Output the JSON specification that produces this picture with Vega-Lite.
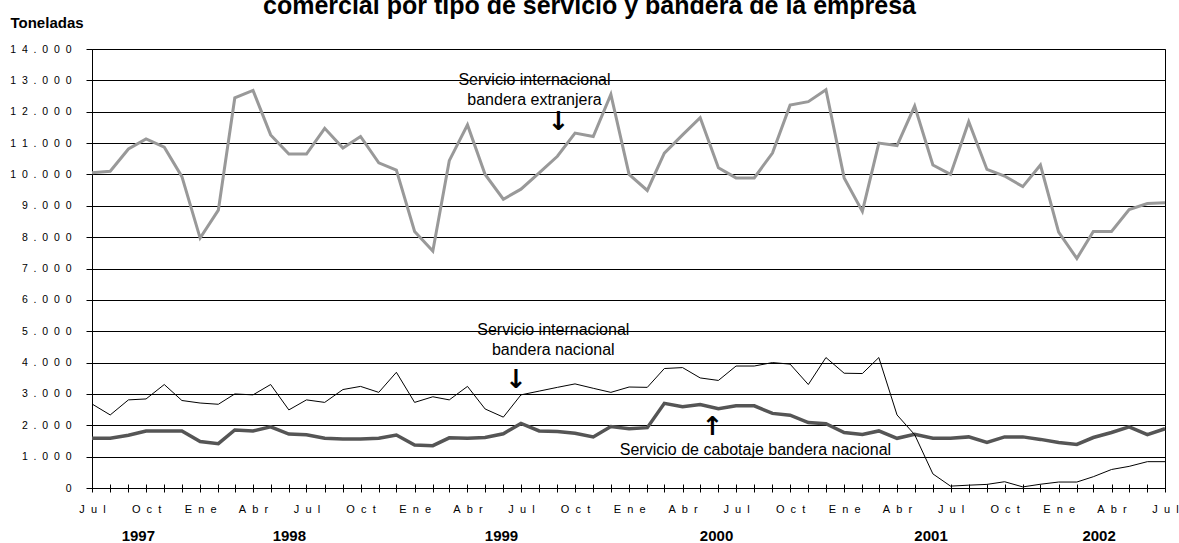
{
  "$schema": "https://vega.github.io/schema/vega-lite/v6.json",
  "width": 1073,
  "height": 439,
  "autosize": {"type": "none"},
  "padding": {"left": 92, "top": 49, "right": 14, "bottom": 55},
  "background": "white",
  "title": {
    "text": "comercial por tipo de servicio y bandera de la empresa",
    "font": "Liberation Sans",
    "fontSize": 25,
    "fontWeight": "bold",
    "color": "black",
    "anchor": "middle",
    "frame": "group",
    "offset": -4,
    "dx": -39
  },
  "config": {
    "view": {"stroke": "black", "strokeWidth": 1},
    "font": "Liberation Sans",
    "axis": {
      "labelColor": "black",
      "domainColor": "black",
      "tickColor": "black",
      "titleColor": "black",
      "labelFont": "Liberation Sans",
      "titleFont": "Liberation Sans"
    }
  },
  "datasets": {
    "mensual": [
      {"mes": "1997-07-01", "ext": 10050, "nac": 2680, "cab": 1585},
      {"mes": "1997-08-01", "ext": 10100, "nac": 2330, "cab": 1585},
      {"mes": "1997-09-01", "ext": 10810, "nac": 2810, "cab": 1680},
      {"mes": "1997-10-01", "ext": 11130, "nac": 2840, "cab": 1820},
      {"mes": "1997-11-01", "ext": 10870, "nac": 3300, "cab": 1820},
      {"mes": "1997-12-01", "ext": 9930, "nac": 2790, "cab": 1820},
      {"mes": "1998-01-01", "ext": 7970, "nac": 2710, "cab": 1480},
      {"mes": "1998-02-01", "ext": 8860, "nac": 2670, "cab": 1415},
      {"mes": "1998-03-01", "ext": 12440, "nac": 3000, "cab": 1850},
      {"mes": "1998-04-01", "ext": 12680, "nac": 2970, "cab": 1820},
      {"mes": "1998-05-01", "ext": 11260, "nac": 3300, "cab": 1950},
      {"mes": "1998-06-01", "ext": 10650, "nac": 2490, "cab": 1720},
      {"mes": "1998-07-01", "ext": 10650, "nac": 2810, "cab": 1700},
      {"mes": "1998-08-01", "ext": 11470, "nac": 2730, "cab": 1585},
      {"mes": "1998-09-01", "ext": 10840, "nac": 3140, "cab": 1560},
      {"mes": "1998-10-01", "ext": 11210, "nac": 3240, "cab": 1560},
      {"mes": "1998-11-01", "ext": 10370, "nac": 3050, "cab": 1585},
      {"mes": "1998-12-01", "ext": 10140, "nac": 3690, "cab": 1690},
      {"mes": "1999-01-01", "ext": 8180, "nac": 2730, "cab": 1370},
      {"mes": "1999-02-01", "ext": 7560, "nac": 2910, "cab": 1350},
      {"mes": "1999-03-01", "ext": 10440, "nac": 2810, "cab": 1600},
      {"mes": "1999-04-01", "ext": 11580, "nac": 3240, "cab": 1585},
      {"mes": "1999-05-01", "ext": 10000, "nac": 2520, "cab": 1610},
      {"mes": "1999-06-01", "ext": 9210, "nac": 2260, "cab": 1730},
      {"mes": "1999-07-01", "ext": 9530, "nac": 2970, "cab": 2060},
      {"mes": "1999-08-01", "ext": 10050, "nac": 3090, "cab": 1820},
      {"mes": "1999-09-01", "ext": 10580, "nac": 3210, "cab": 1800},
      {"mes": "1999-10-01", "ext": 11320, "nac": 3320, "cab": 1745},
      {"mes": "1999-11-01", "ext": 11210, "nac": 3180, "cab": 1630},
      {"mes": "1999-12-01", "ext": 12550, "nac": 3050, "cab": 1960},
      {"mes": "2000-01-01", "ext": 10000, "nac": 3220, "cab": 1890},
      {"mes": "2000-02-01", "ext": 9490, "nac": 3210, "cab": 1925},
      {"mes": "2000-03-01", "ext": 10680, "nac": 3810, "cab": 2700},
      {"mes": "2000-04-01", "ext": 11260, "nac": 3840, "cab": 2590},
      {"mes": "2000-05-01", "ext": 11810, "nac": 3510, "cab": 2660},
      {"mes": "2000-06-01", "ext": 10210, "nac": 3430, "cab": 2530},
      {"mes": "2000-07-01", "ext": 9890, "nac": 3890, "cab": 2620},
      {"mes": "2000-08-01", "ext": 9890, "nac": 3890, "cab": 2620},
      {"mes": "2000-09-01", "ext": 10680, "nac": 4000, "cab": 2380},
      {"mes": "2000-10-01", "ext": 12210, "nac": 3950, "cab": 2320},
      {"mes": "2000-11-01", "ext": 12320, "nac": 3300, "cab": 2085},
      {"mes": "2000-12-01", "ext": 12700, "nac": 4160, "cab": 2050},
      {"mes": "2001-01-01", "ext": 9890, "nac": 3660, "cab": 1770},
      {"mes": "2001-02-01", "ext": 8820, "nac": 3650, "cab": 1710},
      {"mes": "2001-03-01", "ext": 11000, "nac": 4160, "cab": 1820},
      {"mes": "2001-04-01", "ext": 10920, "nac": 2330, "cab": 1585},
      {"mes": "2001-05-01", "ext": 12180, "nac": 1700, "cab": 1710},
      {"mes": "2001-06-01", "ext": 10300, "nac": 450, "cab": 1585},
      {"mes": "2001-07-01", "ext": 10000, "nac": 60, "cab": 1585},
      {"mes": "2001-08-01", "ext": 11680, "nac": 90, "cab": 1630},
      {"mes": "2001-09-01", "ext": 10160, "nac": 115, "cab": 1450},
      {"mes": "2001-10-01", "ext": 9950, "nac": 200, "cab": 1630},
      {"mes": "2001-11-01", "ext": 9610, "nac": 35, "cab": 1630},
      {"mes": "2001-12-01", "ext": 10300, "nac": 120, "cab": 1550},
      {"mes": "2002-01-01", "ext": 8160, "nac": 190, "cab": 1450},
      {"mes": "2002-02-01", "ext": 7320, "nac": 190, "cab": 1390},
      {"mes": "2002-03-01", "ext": 8180, "nac": 360, "cab": 1610},
      {"mes": "2002-04-01", "ext": 8180, "nac": 590, "cab": 1770},
      {"mes": "2002-05-01", "ext": 8880, "nac": 690, "cab": 1950},
      {"mes": "2002-06-01", "ext": 9070, "nac": 840, "cab": 1700},
      {"mes": "2002-07-01", "ext": 9100, "nac": 840, "cab": 1890}
    ],
    "notas": [
      {"mes": "1999-07-24", "toneladas": 13010, "texto": "Servicio internacional"},
      {"mes": "1999-07-24", "toneladas": 12370, "texto": "bandera extranjera"},
      {"mes": "1999-08-25", "toneladas": 5040, "texto": "Servicio internacional"},
      {"mes": "1999-08-25", "toneladas": 4400, "texto": "bandera nacional"},
      {"mes": "2000-08-03", "toneladas": 1210, "texto": "Servicio de cabotaje bandera nacional"}
    ],
    "flechas": [
      {"mes": "1999-09-03", "toneladas": 11670, "flecha": "↓"},
      {"mes": "1999-06-23", "toneladas": 3440, "flecha": "↓"},
      {"mes": "2000-05-22", "toneladas": 1945, "flecha": "↑"}
    ]
  },
  "resolve": {"axis": {"x": "independent"}},
  "layer": [
    {
      "data": {"name": "mensual"},
      "transform": [{"fold": ["ext", "cab", "nac"], "as": ["serie", "toneladas"]}],
      "mark": {"type": "line"},
      "encoding": {
        "x": {
          "field": "mes",
          "type": "temporal",
          "scale": {
            "type": "utc",
            "nice": false,
            "domain": [
              {"year": 1997, "month": 7, "date": 1, "utc": true},
              {"year": 2002, "month": 7, "date": 1, "utc": true}
            ]
          },
          "axis": {
            "orient": "bottom",
            "title": null,
            "grid": false,
            "tickCount": {"interval": "month", "step": 1},
            "tickSize": 4,
            "labelFontSize": 11,
            "labelPadding": 11,
            "labelOverlap": false,
            "labelFlush": false,
            "labelBound": false,
            "labelExpr": "utcmonth(datum.value) == 0 ? 'E\u00a0\u00a0n\u00a0\u00a0e' : utcmonth(datum.value) == 3 ? 'A\u00a0\u00a0b\u00a0\u00a0r' : utcmonth(datum.value) == 6 ? 'J\u00a0\u00a0u\u00a0\u00a0l' : utcmonth(datum.value) == 9 ? 'O\u00a0\u00a0c\u00a0\u00a0t' : ''"
          }
        },
        "y": {
          "field": "toneladas",
          "type": "quantitative",
          "scale": {"domain": [0, 14000], "nice": false},
          "axis": {
            "values": [0, 1000, 2000, 3000, 4000, 5000, 6000, 7000, 8000, 9000, 10000, 11000, 12000, 13000, 14000],
            "tickCount": 20,
            "labelOverlap": false,
            "grid": true,
            "gridColor": "black",
            "gridOpacity": 1,
            "gridWidth": 1,
            "tickSize": 6,
            "labelPadding": 15,
            "labelFontSize": 10.5,
            "labelExpr": "datum.value == 0 ? '0' : (datum.value >= 10000 ? '1\u00a0\u00a0' + (datum.value / 1000 - 10) : '' + (datum.value / 1000)) + '\u00a0\u00a0.\u00a0\u00a00\u00a0\u00a00\u00a0\u00a00'",
            "title": "Toneladas",
            "titleAngle": 0,
            "titleFontSize": 15,
            "titleFontWeight": "bold",
            "titleAlign": "left",
            "titleBaseline": "middle",
            "titleX": -82,
            "titleY": -27
          }
        },
        "color": {
          "field": "serie",
          "type": "nominal",
          "scale": {"domain": ["ext", "cab", "nac"], "range": ["#999999", "#555555", "#000000"]},
          "legend": null
        },
        "strokeWidth": {
          "condition": [
            {"test": "datum.serie == 'nac'", "value": 1},
            {"test": "datum.serie == 'cab'", "value": 3.5}
          ],
          "value": 3
        }
      }
    },
    {
      "data": {"name": "notas"},
      "mark": {"type": "text", "font": "Liberation Sans", "fontSize": 16, "align": "center", "baseline": "middle", "color": "black"},
      "encoding": {
        "x": {
          "field": "mes",
          "type": "temporal",
          "axis": {
            "orient": "bottom",
            "title": null,
            "grid": false,
            "domain": false,
            "ticks": false,
            "values": [
              {"year": 1997, "month": 9, "date": 17, "utc": true},
              {"year": 1998, "month": 6, "date": 1, "utc": true},
              {"year": 1999, "month": 5, "date": 28, "utc": true},
              {"year": 2000, "month": 5, "date": 28, "utc": true},
              {"year": 2001, "month": 5, "date": 28, "utc": true},
              {"year": 2002, "month": 3, "date": 10, "utc": true}
            ],
            "labelExpr": "'' + utcyear(datum.value)",
            "labelFontSize": 15,
            "labelFontWeight": "bold",
            "labelPadding": 40,
            "labelOverlap": false,
            "labelFlush": false
          }
        },
        "y": {"field": "toneladas", "type": "quantitative"},
        "text": {"field": "texto"}
      }
    },
    {
      "data": {"name": "flechas"},
      "mark": {"type": "text", "font": "DejaVu Sans", "fontSize": 26, "fontWeight": "bold", "align": "center", "baseline": "middle", "color": "black"},
      "encoding": {
        "x": {
          "field": "mes",
          "type": "temporal",
          "axis": {
            "orient": "bottom",
            "title": null,
            "grid": false,
            "domain": false,
            "labels": false,
            "offset": -4,
            "tickSize": 4,
            "tickCount": {"interval": "month", "step": 1}
          }
        },
        "y": {"field": "toneladas", "type": "quantitative"},
        "text": {"field": "flecha"}
      }
    }
  ]
}
